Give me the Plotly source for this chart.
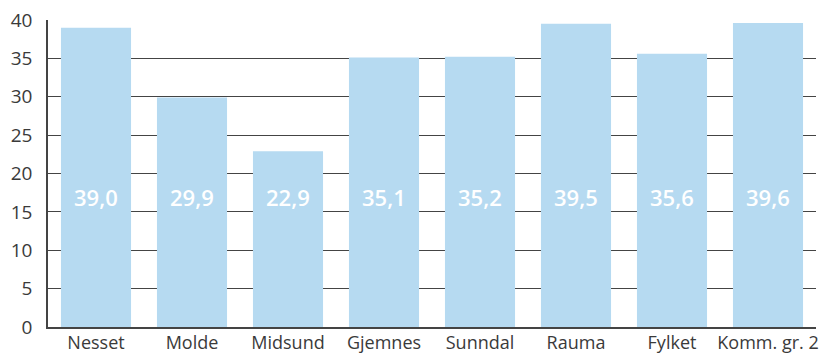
import plotly.graph_objects as go

# Kommuner og verdier
kommuner = ["Nesset", "Molde", "Midsund", "Gjemnes", "Sunndal", "Rauma", "Fylket", "Komm. gr. 2"]
verdier = [39.0, 29.9, 22.9, 35.1, 35.2, 39.5, 35.6, 39.6]
y_ticks = [0, 5, 10, 15, 20, 25, 30, 35, 40]

bar_color = "#b6daf1"
text_color = "#3a3a3a"
font_family = "'Open Sans', sans-serif"

fig = go.Figure()
fig.add_trace(go.Bar(
    x=kommuner,
    y=verdier,
    marker=dict(color=bar_color, line=dict(width=0)),
    hoverinfo="skip",
))

# Verdietiketter i hvit, fet skrift midt i søylene
for k, v in zip(kommuner, verdier):
    fig.add_annotation(
        x=k, y=17.0, text=f"{v:.1f}".replace(".", ","),
        showarrow=False, xanchor="center", yanchor="middle",
        font=dict(family=font_family, size=22, color="white", weight=600),
    )

fig.update_layout(
    width=823, height=356,
    margin=dict(l=48, r=7, t=20, b=29),
    paper_bgcolor="white", plot_bgcolor="white",
    bargap=0.27,
    showlegend=False,
    font=dict(family=font_family, size=19, color=text_color),
)
fig.update_xaxes(
    showgrid=False, showline=True, linecolor="#444444", linewidth=1.5,
    ticks="", tickfont=dict(size=18, color=text_color), ticklabelstandoff=-1,
    range=[-0.5, len(kommuner) - 0.5], automargin=False,
)
fig.update_yaxes(
    range=[0, 40], tickvals=y_ticks, ticktext=[str(t) for t in y_ticks],
    showgrid=True, gridcolor="#444444", gridwidth=1.3,
    zeroline=False, showline=True, linecolor="#444444", linewidth=1.5,
    ticks="", ticklabelstandoff=10, tickfont=dict(size=19, color=text_color),
    automargin=False,
)

fig.write_html("out.html")
